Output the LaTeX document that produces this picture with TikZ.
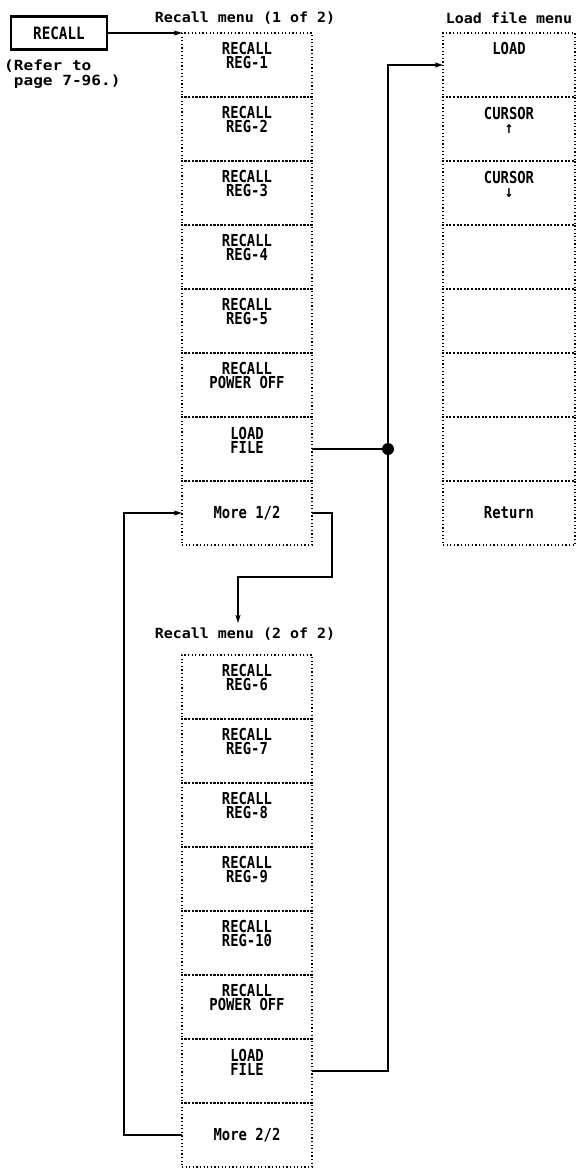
\documentclass[tikz,border=0pt]{standalone}
\usepackage{fontspec}
\usetikzlibrary{arrows.meta}
\newfontfamily\cellfont{DejaVu Sans Mono}[FakeStretch=0.84]
\newfontfamily\titlefont{DejaVu Sans Mono}[FakeStretch=1.07]
\newfontfamily\referfont{DejaVu Sans Mono}[FakeStretch=1.15]
\tikzset{
  cell/.style={draw, dash pattern=on 1.2pt off 2.4pt, line width=1.1pt,
    minimum width=130pt, minimum height=64pt, inner sep=0pt, outer sep=0pt},
  lcell/.style={cell, minimum width=132pt},
  ctext/.style={font=\cellfont\bfseries\fontsize{16.5}{14.4}\selectfont,
    align=center, inner sep=0pt},
  ttext/.style={font=\titlefont\bfseries\fontsize{14}{15}\selectfont, inner sep=0pt},
  rtext/.style={font=\referfont\bfseries\fontsize{14}{15}\selectfont, inner sep=0pt, align=left},
  btn/.style={draw, line width=2.5pt, minimum width=96pt, minimum height=33pt,
    inner sep=0pt, font=\cellfont\bfseries\fontsize{17}{15}\selectfont},
  conn/.style={line width=1.3pt},
  arr/.style={conn, -{Stealth[length=8pt,width=5pt,inset=1.5pt]}},
  dotnode/.style={circle, fill=black, minimum size=12pt, inner sep=0pt}
}
\begin{document}
\begin{tikzpicture}[x=1pt,y=-1pt]
\useasboundingbox (0,0) rectangle (578,1168);
% button and note
\node[btn] (btn) at (59,33) {RECALL};
\node[rtext, anchor=north west] (refer) at (4,60) {(Refer to\\\ page 7-96.)};
% titles
\node[ttext] (title1) at (245,18) {Recall menu (1 of 2)};
\node[ttext] (title3) at (509,18) {Load file menu};
\node[ttext] (title2) at (245,634) {Recall menu (2 of 2)};
% menu cells
\foreach \i in {1,...,8}{
  \node[cell] (m1c\i) at (247,{65+64*(\i-1)}) {};
  \node[cell] (m2c\i) at (247,{687+64*(\i-1)}) {};
  \node[lcell] (ld\i) at (509,{65+64*(\i-1)}) {};
}
% menu 1 texts
\node[ctext, anchor=north, yshift=-9pt] (m1t1) at (m1c1.north) {RECALL\\REG-1};
\node[ctext, anchor=north, yshift=-9pt] (m1t2) at (m1c2.north) {RECALL\\REG-2};
\node[ctext, anchor=north, yshift=-9pt] (m1t3) at (m1c3.north) {RECALL\\REG-3};
\node[ctext, anchor=north, yshift=-9pt] (m1t4) at (m1c4.north) {RECALL\\REG-4};
\node[ctext, anchor=north, yshift=-9pt] (m1t5) at (m1c5.north) {RECALL\\REG-5};
\node[ctext, anchor=north, yshift=-9pt] (m1t6) at (m1c6.north) {RECALL\\POWER OFF};
\node[ctext, anchor=north, yshift=-10pt] (m1t7) at (m1c7.north) {LOAD\\FILE};
\node[ctext] (m1t8) at (m1c8.center) {More 1/2};
% menu 2 texts
\node[ctext, anchor=north, yshift=-9pt] (m2t1) at (m2c1.north) {RECALL\\REG-6};
\node[ctext, anchor=north, yshift=-9pt] (m2t2) at (m2c2.north) {RECALL\\REG-7};
\node[ctext, anchor=north, yshift=-9pt] (m2t3) at (m2c3.north) {RECALL\\REG-8};
\node[ctext, anchor=north, yshift=-9pt] (m2t4) at (m2c4.north) {RECALL\\REG-9};
\node[ctext, anchor=north, yshift=-9pt] (m2t5) at (m2c5.north) {RECALL\\REG-10};
\node[ctext, anchor=north, yshift=-9pt] (m2t6) at (m2c6.north) {RECALL\\POWER OFF};
\node[ctext, anchor=north, yshift=-10pt] (m2t7) at (m2c7.north) {LOAD\\FILE};
\node[ctext] (m2t8) at (m2c8.center) {More 2/2};
% load file menu texts
\node[ctext, anchor=north, yshift=-9pt] (ldt1) at (ld1.north) {LOAD};
\node[ctext, anchor=north, yshift=-10pt] (ldt2) at (ld2.north) {CURSOR\\↑};
\node[ctext, anchor=north, yshift=-10pt] (ldt3) at (ld3.north) {CURSOR\\↓};
\node[ctext] (ldt8) at (ld8.center) {Return};
% connectors
\node[dotnode] (junc) at (388,449) {};
\coordinate (m2in) at (238,623);
\draw[arr] (btn.east) -- (btn.east -| m1c1.west);
\draw[conn] (m1c7.east) -- (junc);
\draw[arr] (junc) |- (ld1.west);
\draw[conn] (m2c7.east) -| (junc);
\draw[arr] (m1c8.east) -- ++(20,0) -- ++(0,64) -| (m2in);
\draw[arr] (m2c8.west) -- ++(-58,0) |- (m1c8.west);
\end{tikzpicture}
\end{document}
